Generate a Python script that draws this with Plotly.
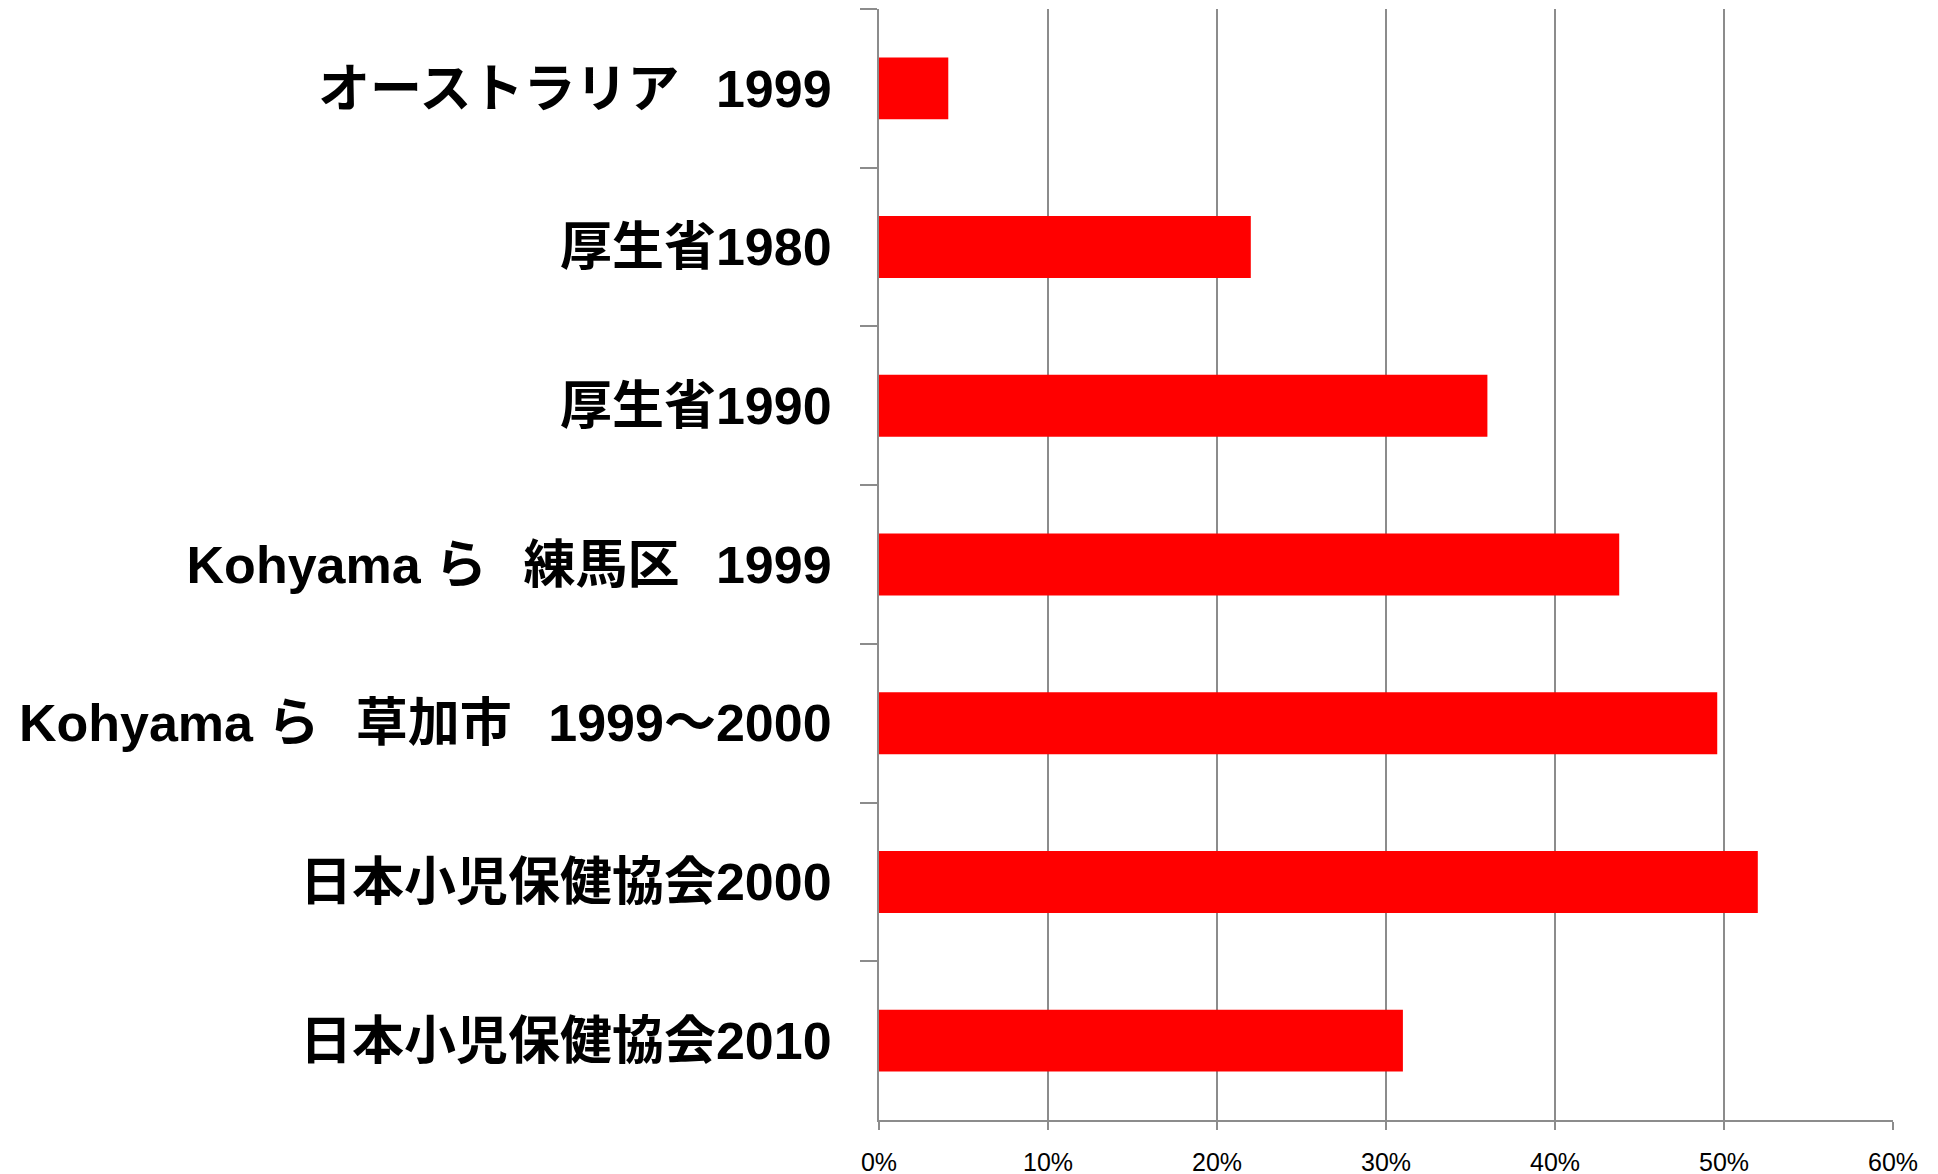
import plotly.graph_objects as go

# data (top to bottom)
studies = [
    'オーストラリア\u2002\u20091999',
    '厚生省1980',
    '厚生省1990',
    'Kohyama ら\u2002\u2009練馬区\u2002\u20091999',
    'Kohyama ら\u2002\u2009草加市\u2002\u20091999～2000',
    '日本小児保健協会2000',
    '日本小児保健協会2010',
]
rates = [0.041, 0.22, 0.36, 0.438, 0.496, 0.52, 0.31]
x_ticks = [0, 0.1, 0.2, 0.3, 0.4, 0.5, 0.6]
x_tick_labels = ['0%', '10%', '20%', '30%', '40%', '50%', '60%']

axis_grey = '#8c8c8c'
label_font = 'Liberation Sans, Arial, Noto Sans CJK JP, sans-serif'

fig = go.Figure()

fig.add_trace(go.Bar(
    x=rates,
    y=studies,
    orientation='h',
    marker_color='#FF0000',
    marker_line_width=0,
))

# page body has an 8px margin, so margins are shifted to land the plot area right
fig.update_layout(
    width=1938,
    height=1174,
    margin={'l': 871, 'r': 53, 't': 1, 'b': 62},
    plot_bgcolor='white',
    paper_bgcolor='white',
    bargap=0.61,
    showlegend=False,
    xaxis={
        'range': [0, 0.6],
        'tickvals': x_ticks,
        'ticktext': x_tick_labels,
        'showgrid': True,
        'gridcolor': axis_grey,
        'gridwidth': 2,
        'showline': True,
        'linecolor': axis_grey,
        'linewidth': 2,
        'ticks': 'outside',
        'ticklen': 8,
        'tickwidth': 2,
        'tickcolor': axis_grey,
        'tickfont': {'size': 25, 'family': label_font, 'color': '#000000'},
        'ticklabelstandoff': 11,
        'zeroline': False,
    },
    yaxis={
        'categoryorder': 'array',
        'categoryarray': studies,
        'autorange': 'reversed',
        'showgrid': False,
        'showline': True,
        'linecolor': axis_grey,
        'linewidth': 2,
        'ticks': 'outside',
        'tickson': 'boundaries',
        'ticklen': 17,
        'tickwidth': 2,
        'tickcolor': axis_grey,
        'tickfont': {'size': 52, 'family': label_font, 'color': '#000000', 'weight': 'bold'},
        'ticklabelstandoff': 35,
    },
)

fig.write_html("out.html")
